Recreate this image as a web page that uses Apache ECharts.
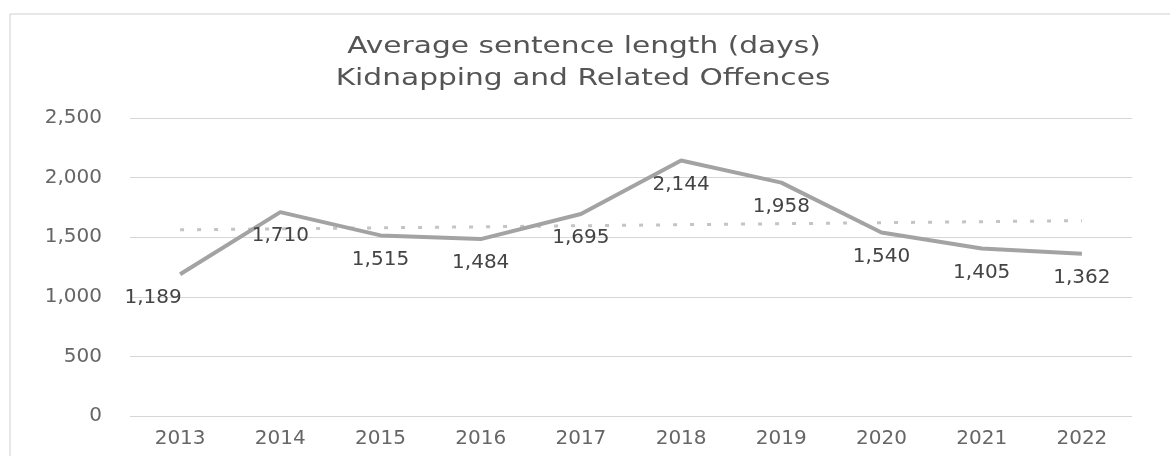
<!DOCTYPE html>
<html><head><meta charset="utf-8">
<script src="https://cdn.jsdelivr.net/npm/echarts@6/dist/echarts.min.js"></script>
<style>html,body{margin:0;padding:0;background:#fff}#c{width:1170px;height:456px}</style>
</head><body><div id="c"></div>
<script>
const years = ['2013','2014','2015','2016','2017','2018','2019','2020','2021','2022'];
const avgDays = [1189,1710,1515,1484,1695,2144,1958,1540,1405,1362];
const trendDays = [1562,1570,1579,1587,1596,1605,1613,1622,1630,1639];
const titleLines = ['Average sentence length (days)','Kidnapping and Related Offences'];

const titleStyle = {fontFamily:'DejaVu Sans',fontSize:23,fill:'#555',textAlign:'center',textVerticalAlign:'middle'};
const chart = echarts.init(document.getElementById('c'));
chart.setOption({
  backgroundColor:'#fff',
  animation:false,
  graphic:[
    {type:'rect',shape:{x:10,y:14,width:1170,height:460},style:{fill:'none',stroke:'#cfcfcf',lineWidth:1}},
    {type:'text',x:584,y:47,scaleX:1.29,style:Object.assign({text:titleLines[0]},titleStyle)},
    {type:'text',x:583,y:79,scaleX:1.29,style:Object.assign({text:titleLines[1]},titleStyle)}
  ],
  grid:{left:130,right:38,top:118,bottom:40},
  xAxis:{type:'category',data:years,boundaryGap:true,
    axisLine:{show:false},axisTick:{show:false},
    axisLabel:{fontFamily:'DejaVu Sans',fontSize:20,color:'#666',margin:13}},
  yAxis:{type:'value',min:0,max:2500,interval:500,
    axisLabel:{fontFamily:'DejaVu Sans',fontSize:20,color:'#666',margin:28,
      formatter:v=>v.toLocaleString('en-US')},
    splitLine:{lineStyle:{color:'#d6d6d6',width:1}}},
  series:[
    {type:'line',data:trendDays,symbol:'none',silent:true,
      lineStyle:{color:'#c4c4c4',width:3,type:[4,13]},z:1},
    {type:'line',data:avgDays.map((v,i)=>i===0?{value:v,label:{offset:[-27,0]}}:v),
      symbol:'circle',symbolSize:0,showSymbol:true,
      itemStyle:{color:'#a3a3a3'},
      lineStyle:{color:'#a3a3a3',width:4},z:2,
      label:{show:true,position:'bottom',distance:14,fontFamily:'DejaVu Sans',fontSize:20,color:'#444',
        formatter:p=>p.value.toLocaleString('en-US')}}
  ]
});
</script></body></html>
